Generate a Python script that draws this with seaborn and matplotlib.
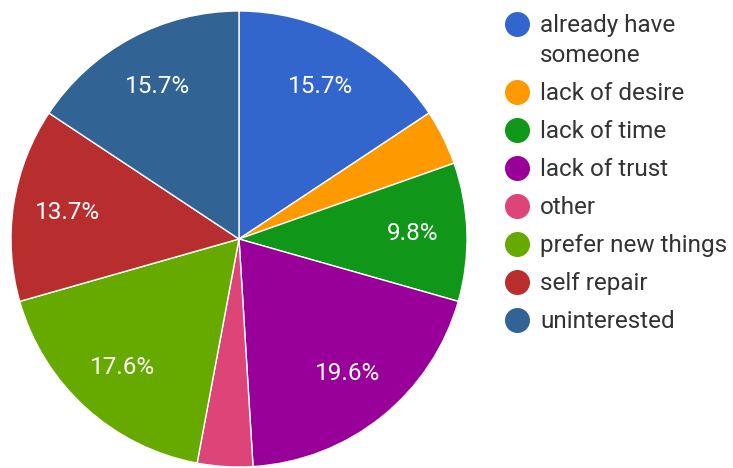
import matplotlib
matplotlib.use("Agg")
import matplotlib.pyplot as plt
import seaborn as sns
from matplotlib.lines import Line2D

categories = ["already have\nsomeone", "lack of desire", "lack of time", "lack of trust",
              "other", "prefer new things", "self repair", "uninterested"]
counts = [8, 2, 5, 10, 2, 9, 7, 8]
colors = ["#3366cc", "#ff9900", "#109618", "#990099", "#dd4477", "#66aa00", "#b82e2e", "#316395"]

sns.set_style("white")
plt.rcParams['font.family'] = ['Roboto', 'DejaVu Sans']

W, H = 733, 468
fig = plt.figure(figsize=(W / 100, H / 100), dpi=100)
cx, cy, r = 239, 239, 228
ax = fig.add_axes([(cx - r) / W, (H - cy - r) / H, 2 * r / W, 2 * r / H])

def fmt(p):
    return f"{p:.1f}%" if p >= 5 else ""

wedges, texts, autotexts = ax.pie(
    counts, colors=colors, startangle=90, counterclock=False,
    autopct=fmt, pctdistance=0.76, radius=1.0,
    wedgeprops=dict(edgecolor="white", linewidth=1.0),
    textprops=dict(color="white", fontsize=17.5))
ax.set_xlim(-1, 1)
ax.set_ylim(-1, 1)
ax.set_aspect("equal")
ax.axis("off")

# legend (Google-chart style: marker aligned with first line of label)
mx, tx = 517, 540
base = 32
for lab, c in zip(categories, colors):
    fig.add_artist(Line2D([mx / W], [1 - (base - 8.5) / H], marker="o", linestyle="",
                          markersize=17, markerfacecolor=c, markeredgecolor=c,
                          transform=fig.transFigure))
    lines = lab.split("\n")
    for j, line in enumerate(lines):
        fig.text(tx / W, 1 - (base + 30 * j) / H, line, ha="left", va="baseline",
                 fontsize=17.5, color="#333333")
    base += 30 * (len(lines) - 1) + 38

fig.savefig("out.png", dpi=100)
